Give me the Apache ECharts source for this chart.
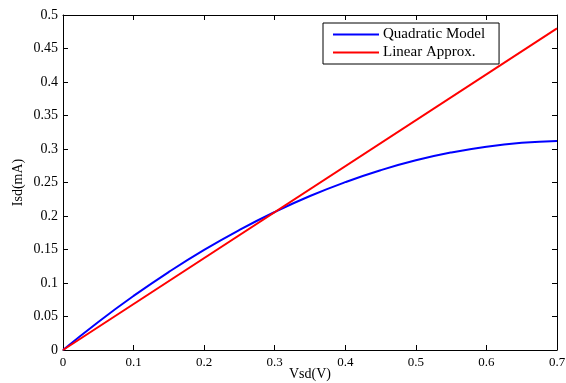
<!DOCTYPE html>
<html><head><meta charset="utf-8">
<script src="https://cdn.jsdelivr.net/npm/echarts@6/dist/echarts.min.js"></script>
<style>html,body{margin:0;padding:0;background:#fff}#c{width:566px;height:383px}</style>
</head><body><div id="c"></div>
<script>
var vsd = [0, 0.05, 0.1, 0.15, 0.2, 0.25, 0.3, 0.35, 0.4, 0.45, 0.5, 0.55, 0.6, 0.65, 0.7];
var quadratic = [0, 0.0419, 0.0807, 0.1165, 0.1494, 0.1792, 0.2060, 0.2298, 0.2505, 0.2683, 0.2831, 0.2948, 0.3035, 0.3092, 0.3119];
var linearV = [0, 0.7];
var linearI = [0, 0.48];
var seriesNames = ['Quadratic Model', 'Linear Approx.'];
var xLabel = 'Vsd(V)', yLabel = 'Isd(mA)';

var font = 'Liberation Serif';
var axisCommon = {
  axisLine: {show: true, onZero: false, lineStyle: {color: '#000', width: 1}},
  axisTick: {show: true, inside: true, length: 5, lineStyle: {color: '#000'}},
  splitLine: {show: false}
};
var chart = echarts.init(document.getElementById('c'));
chart.setOption({
  animation: false,
  textStyle: {fontFamily: font},
  grid: {left: 63, top: 15, right: 9, bottom: 33, containLabel: false, outerBoundsMode: 'none'},
  legend: {
    orient: 'vertical', left: 323, top: 23,
    data: seriesNames,
    icon: 'rect', itemWidth: 46, itemHeight: 2, itemGap: 3,
    borderColor: '#000', borderWidth: 1, padding: [4, 14, 4, 10],
    textStyle: {fontFamily: font, fontSize: 15, color: '#000', padding: [0,0,0,-1]},
    backgroundColor: '#fff'
  },
  xAxis: [
    Object.assign({type: 'value', min: 0, max: 0.7, interval: 0.1, position: 'bottom',
      name: xLabel, nameLocation: 'middle', nameGap: 17, nameMoveOverlap: false,
      nameTextStyle: {fontFamily: font, fontSize: 14, color: '#000'},
      axisLabel: {fontFamily: font, fontSize: 13, color: '#000', margin: 6}}, axisCommon),
    Object.assign({type: 'value', min: 0, max: 0.7, interval: 0.1, position: 'top',
      axisLabel: {show: false}}, axisCommon)
  ],
  yAxis: [
    Object.assign({type: 'value', min: 0, max: 0.5, interval: 0.05, position: 'left',
      name: yLabel, nameLocation: 'middle', nameGap: 38, nameMoveOverlap: false,
      nameTextStyle: {fontFamily: font, fontSize: 14, color: '#000'},
      axisLabel: {fontFamily: font, fontSize: 14, color: '#000', margin: 5,
        formatter: function(v){return String(+v.toFixed(2));}}}, axisCommon),
    Object.assign({type: 'value', min: 0, max: 0.5, interval: 0.05, position: 'right',
      axisLabel: {show: false}}, axisCommon)
  ],
  series: [
    {name: seriesNames[0], type: 'line', showSymbol: false, smooth: true, color: '#0000ff',
     lineStyle: {width: 2, color: '#0000ff'},
     data: vsd.map(function(v, i){return [v, quadratic[i]];})},
    {name: seriesNames[1], type: 'line', showSymbol: false, color: '#ff0000',
     lineStyle: {width: 2, color: '#ff0000'},
     data: linearV.map(function(v, i){return [v, linearI[i]];})}
  ]
});
</script></body></html>
